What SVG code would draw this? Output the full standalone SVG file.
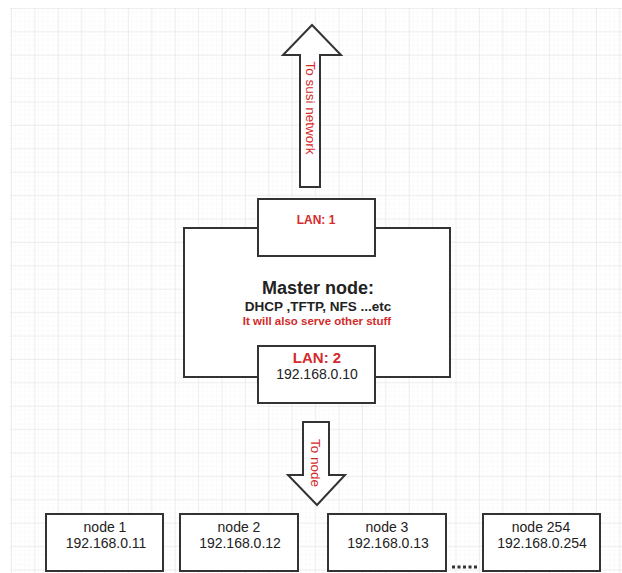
<svg xmlns="http://www.w3.org/2000/svg" width="622" height="573" viewBox="0 0 622 573">
<defs>
<pattern id="minor" x="11" y="8" width="4.68" height="4.68" patternUnits="userSpaceOnUse">
<path d="M4.68 0V4.68H0" fill="none" stroke="#f3f3f3" stroke-width="0.6"/>
</pattern>
<pattern id="major" x="11" y="8" width="23.4" height="23.4" patternUnits="userSpaceOnUse">
<path d="M0 0V23.4M0 0H23.4" fill="none" stroke="#e0e0e0" stroke-width="1"/>
</pattern>
</defs>
<style>
.box{fill:#fff;stroke:#333;stroke-width:2}
.t{font-family:"Liberation Sans",Arial,sans-serif;text-anchor:middle;fill:#222}
.red{fill:#d42a2a}
</style>
<rect width="622" height="573" fill="#fff"/>
<rect x="10" y="8" width="612" height="565" fill="url(#minor)"/>
<rect x="10" y="8" width="612" height="565" fill="url(#major)"/>
<g id="connectors">
<g id="arrow-up">
<polygon class="box" points="300,187 300,55 283,55 312,25 341,55 320,55 320,187"/>
<text class="t red" font-size="13.5" transform="translate(306,108) rotate(90)">To susi network</text>
</g>
<g id="arrow-down">
<polygon class="box" points="303,422 329,422 329,475 345,475 317,505 288,475 303,475"/>
<text class="t red" font-size="13.5" transform="translate(311,463) rotate(90)">To node</text>
</g>
<line x1="452" y1="567" x2="478" y2="567" stroke="#333" stroke-width="3" stroke-dasharray="3,2.5"/>
</g>
<g id="master">
<rect class="box" x="184" y="228" width="266" height="149"/>
<text class="t" x="318" y="294" font-size="18" font-weight="bold">Master node:</text>
<text class="t" x="318" y="311" font-size="13.5" font-weight="bold">DHCP ,TFTP, NFS ...etc</text>
<text class="t red" x="317" y="325" font-size="11.5" font-weight="bold">It will also serve other stuff</text>
</g>
<g id="lan1">
<rect class="box" x="258" y="199" width="117" height="57"/>
<text class="t red" x="316" y="224" font-size="12" font-weight="bold">LAN: 1</text>
</g>
<g id="lan2">
<rect class="box" x="258" y="346" width="117" height="57"/>
<text class="t red" x="317" y="363" font-size="15" font-weight="bold">LAN: 2</text>
<text class="t" x="317" y="379" font-size="14">192.168.0.10</text>
</g>
<g id="node1">
<rect class="box" x="46" y="514" width="117" height="57"/>
<text class="t" x="105" y="532" font-size="14">node 1</text>
<text class="t" x="106" y="548" font-size="14">192.168.0.11</text>
</g>
<g id="node2">
<rect class="box" x="180" y="514" width="118" height="57"/>
<text class="t" x="239" y="532" font-size="14">node 2</text>
<text class="t" x="240" y="548" font-size="14">192.168.0.12</text>
</g>
<g id="node3">
<rect class="box" x="328" y="514" width="118" height="57"/>
<text class="t" x="387" y="532" font-size="14">node 3</text>
<text class="t" x="388" y="548" font-size="14">192.168.0.13</text>
</g>
<g id="node254">
<rect class="box" x="483" y="514" width="117" height="57"/>
<text class="t" x="541" y="532" font-size="14">node 254</text>
<text class="t" x="542" y="548" font-size="14">192.168.0.254</text>
</g>
</svg>
